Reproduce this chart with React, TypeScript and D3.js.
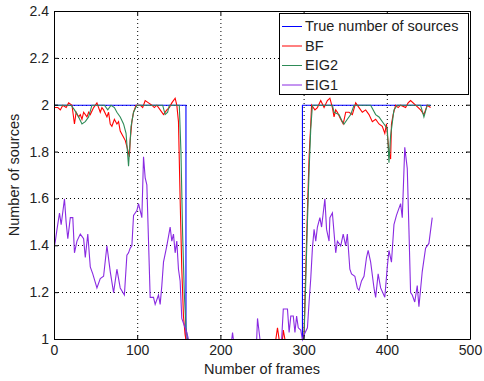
import React, { useRef, useEffect } from 'react';
import * as d3 from 'd3';

// True number of sources (step function)
const trueFrames = [0, 158, 298, 452];
const trueValues = [2, 1, 2, 2];

// BF estimate
const bfFrames = [0, 4, 7, 10, 14, 17, 21, 24, 26, 29, 31, 33, 35, 39, 41, 43, 47, 51, 55, 57, 59, 63, 65, 67, 69, 72, 75, 77, 79, 82, 85, 88, 90, 91, 93, 95, 98, 103, 106, 109, 113, 117, 120, 123, 127, 131, 135, 138, 141, 145, 147, 149, 151, 153, 155, 157, 158, 266, 268, 270, 274, 275, 277, 299, 300, 302, 304, 306, 308, 309, 313, 316, 320, 324, 328, 331, 334, 336, 338, 340, 344, 347, 350, 354, 358, 362, 366, 370, 374, 378, 382, 386, 390, 394, 397, 399, 402, 404, 405, 407, 410, 413, 416, 422, 425, 428, 434, 440, 444, 448, 452];
const bfValues = [1.99, 1.99, 1.98, 2.0, 1.99, 2.01, 2.0, 1.92, 1.97, 1.95, 1.96, 1.94, 1.97, 1.95, 1.97, 1.96, 1.99, 2.01, 1.97, 1.99, 1.98, 1.95, 1.97, 1.92, 1.91, 1.94, 1.92, 1.93, 1.89, 1.87, 1.85, 1.81, 1.78, 1.85, 1.93, 1.97, 2.0, 2.0, 1.99, 2.02, 2.01, 2.0, 1.99, 2.0, 1.98, 1.96, 1.98, 1.99, 2.01, 2.03, 2.0, 1.93, 1.6, 1.3, 1.1, 1.02, 1.0, 1.0, 1.05, 1.0, 1.0, 1.04, 1.0, 1.0, 1.03, 1.3, 1.55, 1.78, 1.92, 2.0, 1.98, 1.99, 2.02, 1.99, 2.02, 2.03, 1.99, 1.95, 1.98, 1.97, 1.94, 1.92, 1.97, 1.97, 1.96, 2.01, 1.99, 1.97, 1.98, 1.96, 1.93, 1.94, 1.92, 1.91, 1.88, 1.92, 1.8, 1.77, 1.92, 1.96, 2.0, 1.99, 2.0, 1.99, 2.01, 2.02, 2.0, 1.98, 1.96, 2.0, 1.99];

// EIG2 estimate
const eig2Frames = [0, 20, 24, 29, 33, 37, 41, 45, 60, 64, 68, 72, 75, 79, 83, 86, 89, 92, 95, 99, 130, 133, 136, 138, 150, 152, 154, 156, 158, 160, 299, 300, 302, 304, 306, 308, 310, 334, 336, 342, 346, 348, 352, 356, 360, 380, 386, 390, 396, 400, 402, 404, 408, 412, 440, 444, 448, 452];
const eig2Values = [2.0, 2.0, 1.98, 1.95, 1.92, 1.93, 1.95, 2.0, 2.0, 1.98, 2.0, 1.99, 1.97, 1.95, 1.92, 1.88, 1.74, 1.91, 1.97, 2.0, 2.0, 1.96, 1.97, 2.0, 2.0, 1.8, 1.45, 1.2, 1.05, 1.0, 1.0, 1.02, 1.25, 1.5, 1.72, 1.9, 2.0, 2.0, 1.97, 1.96, 1.93, 1.92, 1.94, 1.96, 2.0, 2.0, 1.96, 1.95, 1.92, 1.9, 1.755, 1.87, 1.98, 2.0, 2.0, 1.95, 2.0, 2.0];

// EIG1 estimate
const eig1Frames = [0, 1, 3, 6, 8, 12, 14, 16, 19, 22, 24, 27, 31, 35, 37, 40, 43, 46, 51, 55, 59, 63, 67, 71, 75, 79, 84, 87, 89, 91, 93, 95, 99, 101, 105, 107, 109, 111, 113, 115, 119, 121, 125, 127, 129, 131, 135, 139, 141, 143, 145, 147, 149, 151, 153, 156, 159, 161, 213, 214, 215, 243, 244, 246, 247, 273, 275, 280, 282, 284, 287, 289, 291, 293, 296, 298, 300, 304, 306, 308, 310, 312, 314, 316, 319, 321, 325, 327, 330, 331, 334, 338, 340, 344, 347, 350, 352, 355, 357, 361, 364, 366, 369, 372, 375, 377, 380, 384, 386, 389, 392, 397, 400, 402, 405, 408, 411, 416, 418, 421, 424, 426, 428, 430, 433, 436, 438, 442, 446, 450, 454];
const eig1Values = [1.4, 1.42, 1.47, 1.54, 1.49, 1.6, 1.5, 1.43, 1.52, 1.52, 1.37, 1.42, 1.45, 1.43, 1.35, 1.45, 1.31, 1.28, 1.22, 1.26, 1.27, 1.4, 1.29, 1.2, 1.3, 1.22, 1.19, 1.36, 1.37, 1.39, 1.4, 1.53, 1.55, 1.58, 1.52, 1.78, 1.69, 1.66, 1.42, 1.18, 1.18, 1.15, 1.19, 1.15, 1.23, 1.33, 1.4, 1.48, 1.42, 1.45, 1.37, 1.42, 1.3, 1.25, 1.09, 1.06, 1.03, 1.0, 1.0, 1.03, 1.0, 1.0, 1.09, 1.03, 1.0, 1.0, 1.13, 1.13, 1.03, 1.1, 1.1, 1.03, 1.1, 1.05, 1.04, 1.0, 1.02, 1.05, 1.16, 1.26, 1.39, 1.47, 1.42, 1.48, 1.52, 1.48, 1.6, 1.47, 1.42, 1.52, 1.54, 1.37, 1.42, 1.4, 1.45, 1.4, 1.45, 1.3, 1.28, 1.27, 1.22, 1.21, 1.25, 1.27, 1.35, 1.38, 1.33, 1.22, 1.18, 1.28, 1.22, 1.18, 1.31, 1.38, 1.33, 1.49, 1.53, 1.58, 1.52, 1.82, 1.73, 1.47, 1.2, 1.19, 1.16, 1.23, 1.14, 1.29, 1.39, 1.41, 1.52];

const xTicks = [0, 100, 200, 300, 400, 500];
const yTicks = [1, 1.2, 1.4, 1.6, 1.8, 2, 2.2, 2.4];

const seriesNames = ['True number of sources', 'BF', 'EIG2', 'EIG1'];
const seriesColors = ['#0000ff', '#ff0000', '#2e8b57', '#8a2be2'];

const App = () => {
  const svgRef = useRef<SVGSVGElement>(null);

  useEffect(() => {
    d3.select(svgRef.current).selectAll('*').remove();

    const svg = d3.select(svgRef.current);
    const width = 484;
    const height = 381;
    const margin = { top: 11, right: 14, bottom: 42, left: 54 };
    const font = 'Arial, "Liberation Sans", Helvetica, sans-serif';

    svg.attr('width', width).attr('height', height);

    const innerWidth = width - margin.left - margin.right;
    const innerHeight = height - margin.top - margin.bottom;

    const x = d3.scaleLinear().domain([0, 500]).range([0, innerWidth]);
    const y = d3.scaleLinear().domain([1, 2.4]).range([innerHeight, 0]);

    svg.append('rect').attr('width', width).attr('height', height).attr('fill', '#fff');

    const g = svg.append('g')
      .attr('transform', `translate(${margin.left},${margin.top})`);

    // dotted grid
    g.append('g')
      .selectAll('line')
      .data(xTicks.slice(1, -1))
      .enter().append('line')
      .attr('x1', d => x(d) + 0.5).attr('x2', d => x(d) + 0.5)
      .attr('y1', 0).attr('y2', innerHeight)
      .attr('stroke', '#000').attr('stroke-dasharray', '1,3');

    g.append('g')
      .selectAll('line')
      .data(yTicks.slice(1, -1))
      .enter().append('line')
      .attr('y1', d => Math.round(y(d)) + 0.5).attr('y2', d => Math.round(y(d)) + 0.5)
      .attr('x1', 0).attr('x2', innerWidth)
      .attr('stroke', '#000').attr('stroke-dasharray', '1,3');

    // series (shifted half a pixel so values at 1 sit under the axis line)
    const series = [
      { frames: trueFrames, values: trueValues, curve: d3.curveStepAfter },
      { frames: bfFrames, values: bfValues, curve: d3.curveLinear },
      { frames: eig2Frames, values: eig2Values, curve: d3.curveLinear },
      { frames: eig1Frames, values: eig1Values, curve: d3.curveLinear }
    ];

    const lines = g.append('g').attr('transform', 'translate(0.5,0.5)');
    series.forEach((s, i) => {
      const line = d3.line<number>()
        .x((_, j) => x(s.frames[j]))
        .y(d => y(d))
        .curve(s.curve);
      lines.append('path')
        .datum(s.values)
        .attr('fill', 'none')
        .attr('stroke', seriesColors[i])
        .attr('stroke-width', 1.1)
        .attr('d', line);
    });

    // axes box with inward ticks
    const tickLen = 4;
    g.append('g')
      .attr('transform', `translate(0,${innerHeight})`)
      .call(d3.axisBottom(x).tickValues(xTicks).tickSizeInner(-tickLen).tickSizeOuter(0).tickPadding(6));
    g.append('g')
      .call(d3.axisTop(x).tickValues(xTicks).tickSizeInner(-tickLen).tickSizeOuter(0).tickFormat(() => ''));
    g.append('g')
      .call(d3.axisLeft(y).tickValues(yTicks).tickSizeInner(-tickLen).tickSizeOuter(0).tickPadding(5).tickFormat(d3.format('~g')));
    g.append('g')
      .attr('transform', `translate(${innerWidth},0)`)
      .call(d3.axisRight(y).tickValues(yTicks).tickSizeInner(-tickLen).tickSizeOuter(0).tickFormat(() => ''));

    g.selectAll('.domain').attr('stroke', '#000');
    g.selectAll('.tick line').attr('stroke', '#000');
    g.selectAll('.tick text')
      .attr('font-family', font)
      .attr('font-size', 14)
      .attr('fill', '#222');

    // axis labels
    svg.append('text')
      .attr('x', margin.left + innerWidth / 2)
      .attr('y', 374)
      .attr('text-anchor', 'middle')
      .attr('font-family', font)
      .attr('font-size', 14.5)
      .attr('fill', '#222')
      .text('Number of frames');

    svg.append('text')
      .attr('transform', `translate(19,${margin.top + innerHeight / 2}) rotate(-90)`)
      .attr('text-anchor', 'middle')
      .attr('font-family', font)
      .attr('font-size', 14.5)
      .attr('fill', '#222')
      .text('Number of sources');

    // legend
    const lx = 279 - margin.left;
    const ly = 13 - margin.top;
    const legend = g.append('g').attr('transform', `translate(${lx},${ly})`);
    legend.append('rect')
      .attr('x', 0.5).attr('y', 0.5)
      .attr('width', 189).attr('height', 81)
      .attr('fill', '#fff').attr('stroke', '#000');
    seriesNames.forEach((name, i) => {
      const cy = 13 + i * 19.5;
      legend.append('line')
        .attr('x1', 3).attr('x2', 23)
        .attr('y1', cy + 0.5).attr('y2', cy + 0.5)
        .attr('stroke', seriesColors[i]);
      legend.append('text')
        .attr('x', 26).attr('y', cy + 5)
        .attr('font-family', font)
        .attr('font-size', 14.5)
        .attr('fill', '#222')
        .text(name);
    });
  }, []);

  return (
    <div style={{ position: 'absolute', left: 0, top: 0, width: '484px', height: '381px' }}>
      <svg ref={svgRef}></svg>
    </div>
  );
};

export default App;
